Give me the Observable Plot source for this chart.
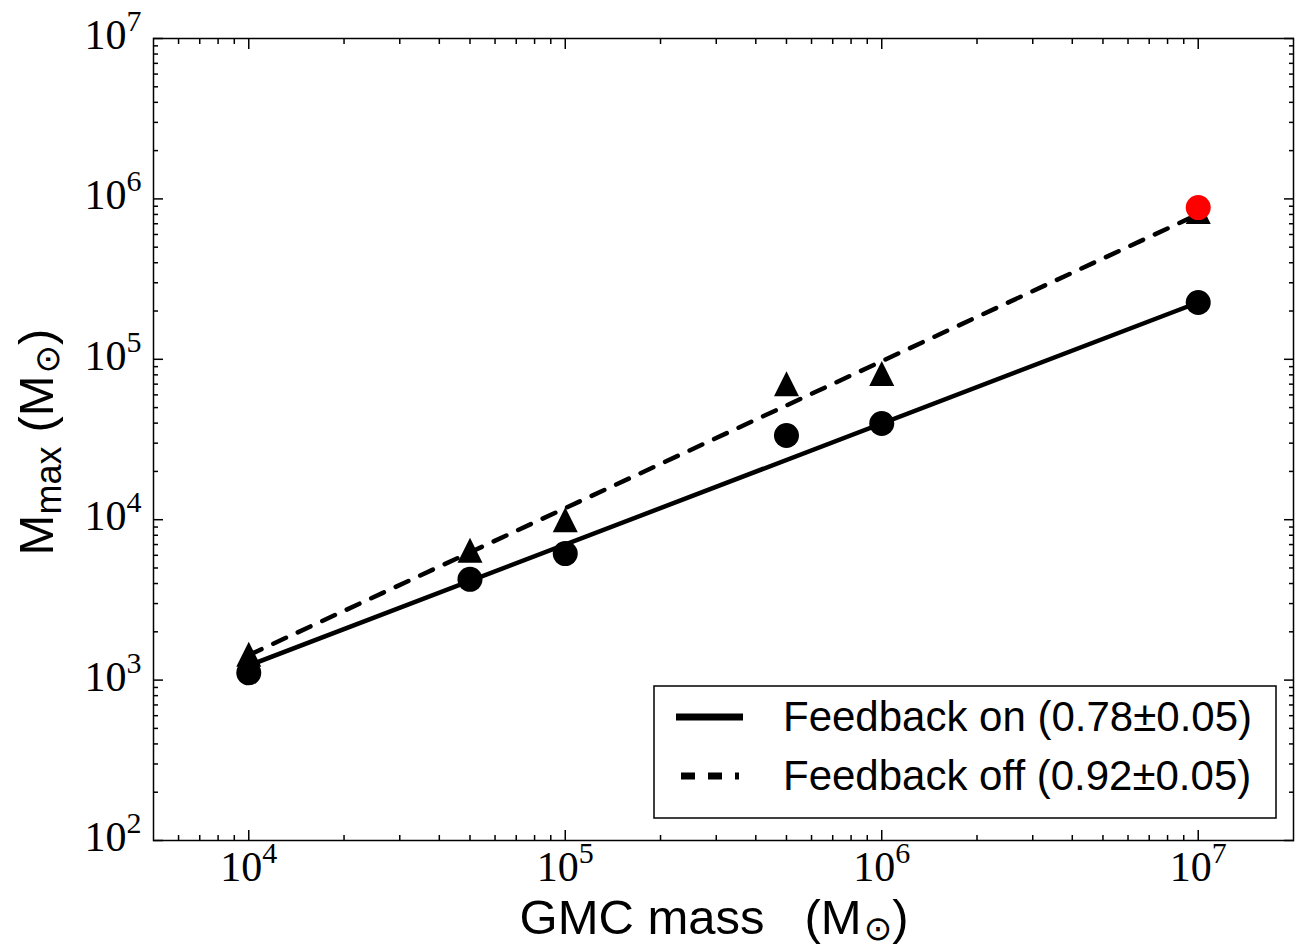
<!DOCTYPE html>
<html>
<head>
<meta charset="utf-8">
<script src="https://cdn.jsdelivr.net/npm/d3@7"></script>
<script src="https://cdn.jsdelivr.net/npm/@observablehq/plot@0.6"></script>
<style>
  html, body { margin: 0; padding: 0; background: #fff; }
  #chart { width: 1307px; height: 948px; }
</style>
</head>
<body>
<div id="chart"></div>
<script>
// ---- data ----
const gmcMass = [1e4, 5e4, 1e5, 5e5, 1e6, 1e7];
const mmaxFeedbackOn = [1110, 4250, 6150, 33500, 39800, 226000];
const mmaxFeedbackOff = [1450, 6450, 10000, 70500, 81500, 834000];
const highlightMass = [1e7];
const highlightMmax = [883000];
const fitMass = [1e4, 1e7];
const fitFeedbackOn = [1233, 226000];
const fitFeedbackOff = [1432, 802000];
const legendLabels = ["Feedback on (0.78\u00b10.05)", "Feedback off (0.92\u00b10.05)"];
const xMajorTicks = [1e4, 1e5, 1e6, 1e7];
const yMajorTicks = [1e2, 1e3, 1e4, 1e5, 1e6, 1e7];
const xMinorTicks = [6e3, 7e3, 8e3, 9e3];
for (const d of [1e4, 1e5, 1e6]) for (let k = 2; k <= 9; k++) xMinorTicks.push(k * d);
const yMinorTicks = [];
for (const d of [1e2, 1e3, 1e4, 1e5, 1e6]) for (let k = 2; k <= 9; k++) yMinorTicks.push(k * d);

const onData = gmcMass.map((m, i) => ({m, v: mmaxFeedbackOn[i]}));
const offData = gmcMass.map((m, i) => ({m, v: mmaxFeedbackOff[i]}));
const redData = highlightMass.map((m, i) => ({m, v: highlightMmax[i]}));
const fitOn = fitMass.map((m, i) => ({m, v: fitFeedbackOn[i]}));
const fitOff = fitMass.map((m, i) => ({m, v: fitFeedbackOff[i]}));

const serif = "'Liberation Serif', 'DejaVu Serif', serif";
const sans = "'Liberation Sans', Arimo, 'DejaVu Sans', sans-serif";
const fmt = d => `10^${Math.round(Math.log10(d))}`;

const triangleUp = {
  draw(ctx, size) {
    const s = Math.sqrt(size / Math.PI);
    ctx.moveTo(0, -s); ctx.lineTo(s, s); ctx.lineTo(-s, s); ctx.closePath();
  }
};

const W = 1307, H = 948, mT = 38, mR = 14, mB = 108, mL = 153;
const dash = "14,13";
const lw = 4.5;

const plot = Plot.plot({
  width: W, height: H,
  marginTop: mT, marginRight: mR, marginBottom: mB, marginLeft: mL,
  x: {type: "log", domain: [5e3, 2e7]},
  y: {type: "log", domain: [1e2, 1e7]},
  marks: [
    // inward ticks on all four sides
    Plot.axisX(xMajorTicks, {anchor: "bottom", tickSize: 10, dy: -10, fill: "none", strokeWidth: 1.5, label: null}),
    Plot.axisX(xMinorTicks, {anchor: "bottom", tickSize: 5, dy: -5, fill: "none", strokeWidth: 1.5, label: null}),
    Plot.axisX(xMajorTicks, {anchor: "top", tickSize: 10, dy: 10, fill: "none", strokeWidth: 1.5, label: null}),
    Plot.axisX(xMinorTicks, {anchor: "top", tickSize: 5, dy: 5, fill: "none", strokeWidth: 1.5, label: null}),
    Plot.axisY(yMajorTicks, {anchor: "left", tickSize: 10, dx: 10, fill: "none", strokeWidth: 1.5, label: null}),
    Plot.axisY(yMinorTicks, {anchor: "left", tickSize: 5, dx: 5, fill: "none", strokeWidth: 1.5, label: null}),
    Plot.axisY(yMajorTicks, {anchor: "right", tickSize: 10, dx: -10, fill: "none", strokeWidth: 1.5, label: null}),
    Plot.axisY(yMinorTicks, {anchor: "right", tickSize: 5, dx: -5, fill: "none", strokeWidth: 1.5, label: null}),
    // tick labels
    Plot.axisX(xMajorTicks, {anchor: "bottom", tickSize: 0, tickPadding: 11, tickFormat: fmt, fontSize: 42, fontFamily: serif, label: null}),
    Plot.axisY(yMajorTicks, {anchor: "left", tickSize: 0, tickPadding: 12, tickFormat: fmt, fontSize: 42, fontFamily: serif, dy: -3, label: null}),
    // fit lines
    Plot.line(fitOn, {x: "m", y: "v", stroke: "black", strokeWidth: lw}),
    Plot.line(fitOff, {x: "m", y: "v", stroke: "black", strokeWidth: lw, strokeDasharray: dash}),
    // markers
    Plot.dot(offData, {x: "m", y: "v", symbol: triangleUp, r: 12.5, fill: "black"}),
    Plot.dot(onData, {x: "m", y: "v", r: 12.5, fill: "black"}),
    Plot.dot(redData, {x: "m", y: "v", r: 12.5, fill: "#ff0000"}),
    Plot.frame({stroke: "black", strokeWidth: 1.5})
  ]
});

const svg = d3.select(plot);
svg.style("background", "#fff");

// superscripts for tick labels
svg.selectAll('g[aria-label$="tick label"] text').each(function () {
  const m = this.textContent.match(/^10\^(\d+)$/);
  if (!m) return;
  this.textContent = "10";
  const ts = document.createElementNS("http://www.w3.org/2000/svg", "tspan");
  ts.setAttribute("font-size", "30");
  ts.setAttribute("dy", "-18");
  ts.textContent = m[1];
  this.appendChild(ts);
});

// x axis label
const xl = svg.append("text")
  .attr("x", 714).attr("y", 934)
  .attr("text-anchor", "middle")
  .attr("font-family", sans).attr("font-size", 49).attr("fill", "black");
xl.append("tspan").text("GMC mass");
xl.append("tspan").attr("dx", 40).text("(M");
xl.append("tspan").attr("font-family", "'DejaVu Sans'").attr("font-size", 34).attr("dy", 6).attr("dx", 2).text("\u2299");
xl.append("tspan").attr("dy", -6).text(")");

// y axis label
const yl = svg.append("text")
  .attr("transform", "translate(53,442) rotate(-90)")
  .attr("text-anchor", "middle")
  .attr("font-family", sans).attr("font-size", 49).attr("fill", "black");
yl.append("tspan").text("M");
yl.append("tspan").attr("font-size", 36).attr("dy", 8).text("max");
yl.append("tspan").attr("dy", -8).attr("dx", 14).text("(M");
yl.append("tspan").attr("font-family", "'DejaVu Sans'").attr("font-size", 34).attr("dy", 6).attr("dx", 2).text("\u2299");
yl.append("tspan").attr("dy", -6).text(")");

// legend
const lg = svg.append("g");
lg.append("rect").attr("x", 654).attr("y", 686).attr("width", 622).attr("height", 132)
  .attr("fill", "white").attr("stroke", "black").attr("stroke-width", 1.5);
const rows = [
  {y: 717, base: 731, dash: null},
  {y: 776, base: 790, dash: dash}
];
rows.forEach((r, i) => {
  const ln = lg.append("line").attr("x1", 676).attr("x2", 743).attr("y1", r.y).attr("y2", r.y)
    .attr("stroke", "black").attr("stroke-width", 7);
  if (r.dash) ln.attr("x1", 681).attr("x2", 739).attr("stroke-dasharray", r.dash);
  lg.append("text").attr("x", 783).attr("y", r.base)
    .attr("text-anchor", "start")
    .attr("font-family", sans).attr("font-size", 42).attr("fill", "black")
    .text(legendLabels[i]);
});

document.getElementById("chart").appendChild(plot);
</script>
</body>
</html>
